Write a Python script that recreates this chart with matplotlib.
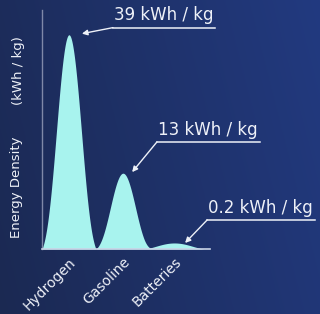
import numpy as np
import matplotlib
matplotlib.use('Agg')
import matplotlib.pyplot as plt
import matplotlib.transforms as mtransforms

# values
categories = ["Hydrogen", "Gasoline", "Batteries"]
energy_values = [39, 13, 0.2]
energy_labels = ["39 kWh / kg", "13 kWh / kg", "0.2 kWh / kg"]
# drawn peak heights (the batteries bump is drawn bigger than 0.2)
peak_heights = [39, 13.8, 1.1]
peak_centers = [0, 1, 1.95]
peak_spreads = [0.22, 0.22, 0.3]
peak_halfbase = [0.5, 0.5, 0.55]

# where each label's arrow points and where its underline starts (data coords)
arrow_heads = [(0.24, 39.2), (1.17, 14.0), (2.15, 1.1)]
label_starts = [(0.815, 40.3), (1.63, 19.5), (2.56, 5.3)]
underline_len = [1.88, 1.9, 2.0]

text_col = "#eef1f8"
fill_col = "#a8f3ee"

fig = plt.figure(figsize=(3.2, 3.14), dpi=100)

# background gradient
bg = fig.add_axes([0, 0, 1, 1], zorder=-1)
gx = np.linspace(0, 1, 256)
gy = np.linspace(0, 1, 256)
GX, GY = np.meshgrid(gx, gy)
left = np.array([0x1b, 0x29, 0x52]) / 255
right = np.array([0x22, 0x3a, 0x80]) / 255
t = np.clip(0.8 * GX + 0.2 * (1 - GY), 0, 1)[..., None]
bg.imshow(left * (1 - t) + right * t, aspect='auto', extent=(0, 1, 0, 1), origin='upper')
bg.axis('off')

ax = fig.add_axes([0.131, 0.207, 0.525, 0.761])
ax.set_facecolor('none')

# bell shaped peaks that die out before touching the next one
xs = np.linspace(-0.5, 2.61, 800)
ys = np.zeros_like(xs)
for c, h, s, w in zip(peak_centers, peak_heights, peak_spreads, peak_halfbase):
    d = xs - c
    win = np.clip(1 - (d / w) ** 4, 0, None)
    ys += h * np.exp(-0.5 * (d / s) ** 2) * win
ax.fill_between(xs, 0, ys, color=fill_col, lw=0)

ax.set_xlim(-0.5, 2.61)
ax.set_ylim(0, 43.5)

for side in ['top', 'right']:
    ax.spines[side].set_visible(False)
ax.spines['left'].set_color('#7f88a8')
ax.spines['bottom'].set_color('#c9d3e6')
ax.spines['left'].set_linewidth(1)
ax.spines['bottom'].set_linewidth(1.2)

ax.set_yticks([])
ax.set_xticks(peak_centers)
ax.set_xticklabels(categories, rotation=45, ha='right', va='center',
                   rotation_mode='anchor', fontsize=10, color=text_col)
ax.tick_params(axis='x', length=0, pad=8)
shift = mtransforms.ScaledTranslation(5 / 100, 0, fig.dpi_scale_trans)
for lab in ax.get_xticklabels():
    lab.set_transform(lab.get_transform() + shift)

# y axis title, two parts
ax.text(-0.149, 0.26, "Energy Density", transform=ax.transAxes, rotation=90,
        ha='center', va='center', fontsize=9.5, color=text_col)
ax.text(-0.14, 0.747, "(kWh / kg)", transform=ax.transAxes, rotation=90,
        ha='center', va='center', fontsize=9.5, color=text_col)

for lbl, head, start, ln in zip(energy_labels, arrow_heads, label_starts, underline_len):
    ax.annotate("", xy=head, xytext=start,
                arrowprops=dict(arrowstyle='-|>', color=text_col, lw=1,
                                shrinkA=0, shrinkB=0, mutation_scale=8),
                annotation_clip=False)
    ax.plot([start[0], start[0] + ln], [start[1], start[1]], color=text_col,
            lw=1.1, clip_on=False)
    ax.text(start[0] + 0.02, start[1] + 0.6, lbl, fontsize=12, color=text_col,
            ha='left', va='bottom', clip_on=False)

fig.savefig('out.png', dpi=100, facecolor='#1e2f62')
